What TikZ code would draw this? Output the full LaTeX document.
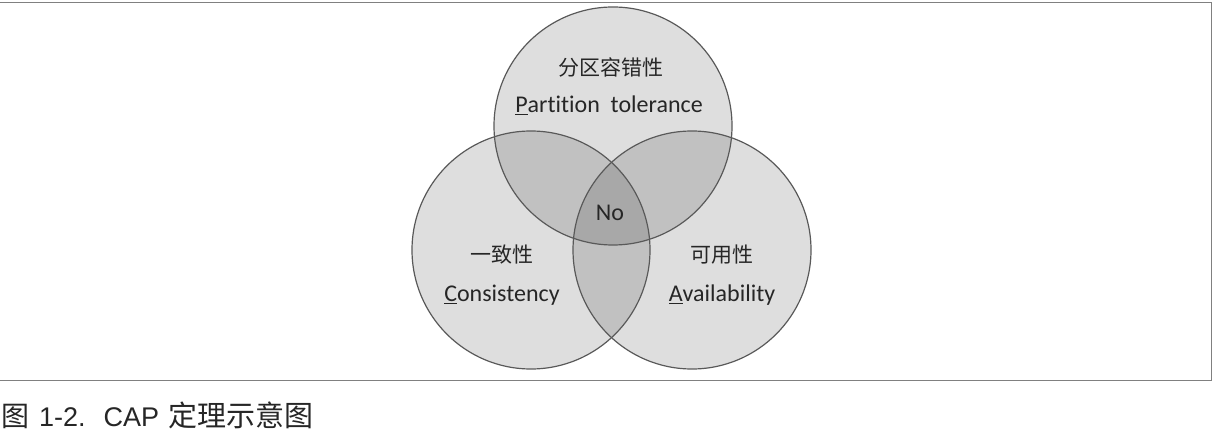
\documentclass[tikz,border=0pt]{standalone}
\usepackage{fontspec}
\setmainfont[Ligatures=NoCommon]{Carlito}
\newfontfamily\cjk{Noto Sans CJK SC}
\newfontfamily\capfont{Liberation Sans}
\begin{document}
\begin{tikzpicture}[x=1pt,y=-1pt,
	ring/.style={draw=black!65, line width=1.2pt},
	shade/.style={fill=black, fill opacity=0.13},
	zh/.style={text=black!85, font=\cjk\fontsize{21}{25}\selectfont},
	en/.style={text=black!85, font=\fontsize{24}{28}\selectfont}]
	\useasboundingbox (0,0) rectangle (1214,446);
	\pgfmathsetmacro\r{119}
	% frame
	\draw[black!50, line width=1pt] (0,3) -- (1211,3) -- (1211,380) -- (0,380);
	% the three sets
	\coordinate (P) at (613,126);
	\coordinate (C) at (531,250);
	\coordinate (A) at (692,250);
	\foreach \c in {P,C,A}
		\path[shade] (\c) circle (\r);
	\foreach \c in {P,C,A}
		\draw[ring] (\c) circle (\r);
	% labels
	\node[zh] (pzh) at (611,67) {分区容错性};
	\node[en] (pen) at (609,105) {\underline{P}artition\ \ tolerance};
	\node[en] (no) at (610,213) {No};
	\node[zh] (czh) at (502,255) {一致性};
	\node[en] (cen) at (502,295) {\underline{C}onsistency};
	\node[zh] (azh) at (722,255) {可用性};
	\node[en] (aen) at (722,295) {\underline{A}vailability};
	% caption
	\node[anchor=west, inner sep=0pt, text=black!85, font=\capfont\fontsize{27}{32}\selectfont] (cap) at (1,415)
		{{\cjk\fontsize{28}{32}\selectfont 图}\hspace{10pt}1-2.\hspace{18pt}CAP\hspace{9pt}{\cjk\fontsize{29}{32}\selectfont 定理示意图}};
\end{tikzpicture}
\end{document}
